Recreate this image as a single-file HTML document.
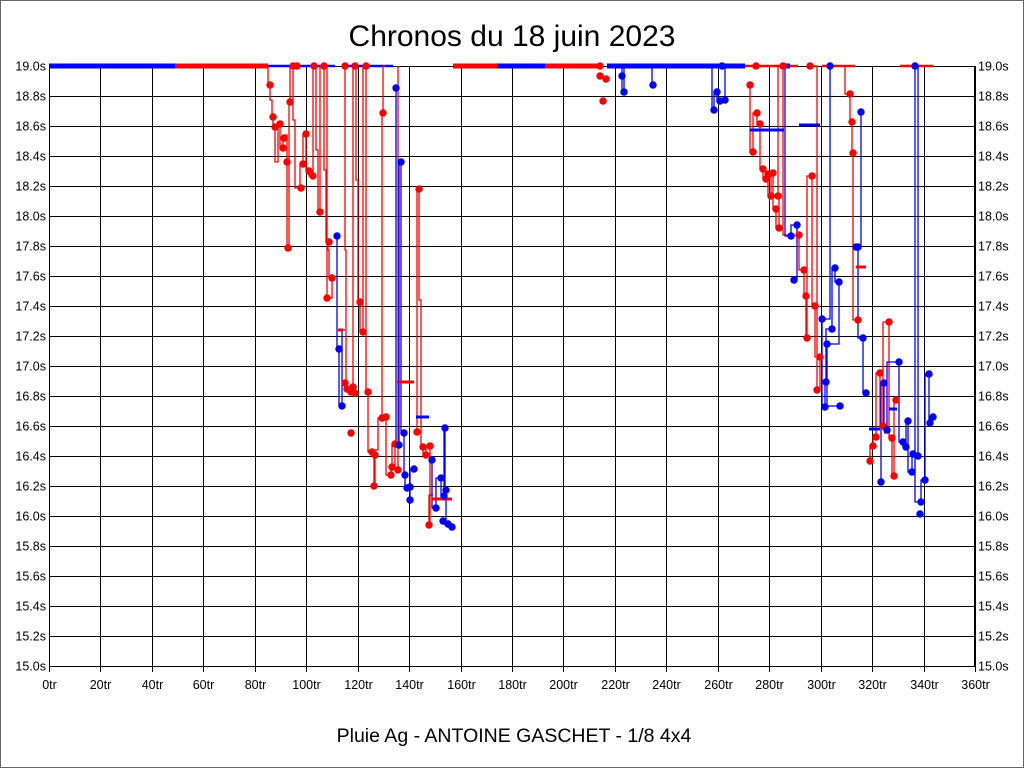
<!DOCTYPE html>
<html><head><meta charset="utf-8"><style>
body{margin:0;background:#fff}
svg{display:block;font-family:"Liberation Sans",sans-serif}
</style></head><body>
<svg width="1024" height="768" viewBox="0 0 1024 768">
<rect x="0.5" y="0.5" width="1023" height="767" fill="#fff" stroke="#666"/>
<text x="512" y="46" font-size="30" text-anchor="middle">Chronos du 18 juin 2023</text>
<text x="514" y="742" font-size="19.5" text-anchor="middle">Pluie Ag - ANTOINE GASCHET - 1/8 4x4</text>
<g id="grid" stroke="#000" stroke-width="1"></g>
<g id="lbl" font-size="12.5"></g>
<rect x="49.5" y="66.5" width="925" height="600" fill="none" stroke="#000"/>
<g fill="none" stroke-width="1.3" stroke-linejoin="miter">
<g stroke-width="5">
<line x1="49" y1="66" x2="175" y2="66" stroke="#00f"/>
<line x1="175" y1="66" x2="268" y2="66" stroke="#f00"/>
<line x1="268" y1="66" x2="290" y2="66" stroke="#00f" stroke-width="2.5"/>
<line x1="290" y1="66" x2="300" y2="66" stroke="#f00"/>
<line x1="300" y1="66" x2="335" y2="66" stroke="#00f" stroke-width="2.5"/>
<line x1="345" y1="66" x2="393" y2="66" stroke="#00f" stroke-width="2.5"/>
<line x1="453" y1="66" x2="497" y2="66" stroke="#f00"/>
<line x1="497" y1="66" x2="545" y2="66" stroke="#00f"/>
<line x1="545" y1="66" x2="600" y2="66" stroke="#f00"/>
<line x1="607" y1="66" x2="745" y2="66" stroke="#00f"/>
<line x1="745" y1="66" x2="798" y2="66" stroke="#f00" stroke-width="2.5"/>
<line x1="780" y1="66" x2="790" y2="66" stroke="#00f"/>
<line x1="822" y1="66" x2="855" y2="66" stroke="#f00" stroke-width="2.5"/>
<line x1="900" y1="66" x2="933" y2="66" stroke="#f00" stroke-width="2.5"/>
</g>
<g stroke="#f00" class="st">
<polyline points="268,66 270,85 272,100 273,117 275,127 278,162 280,124 283,148 285,138 287,135 289,248 290,102 291,66"/>
<polyline points="293,66 295,120 300,188 303,164 306,134 309,171 313,176 314,66"/>
<polyline points="316,66 318,150 320,212 322,66"/>
<polyline points="324,66 326,170 328,242 329,250 332,278 327,298 326,66"/>
<polyline points="345,66 346,250 345,383 347,389 351,392 353,387 355,66"/>
<polyline points="356,66 358,180 360,302 363,332 366,66"/>
<polyline points="366,66 368,392 372,452 375,455 374,486 378,450 382,418 383,113 386,66"/>
<polyline points="386,417 391,475 392,467 395,444 398,470 398,66"/>
<polyline points="417,432 419,189 421,300 423,447 426,455 430,446 429,525 433,495"/>
<polyline points="750,85 753,152 757,113 760,124 763,169 766,179 768,174 771,196 773,173 776,209 779,228 778,196 756,66"/>
<polyline points="783,66 799,235 804,270 806,296 807,338 812,176 815,306 820,357 817,390 810,66"/>
<polyline points="845,66 850,94 852,122 853,153 858,320"/>
<polyline points="870,461 873,446 876,437 880,373 883,426 889,322 892,438 894,476 896,400"/>
</g>
<g stroke="#00f" class="st">
<polyline points="337,236 339,349 342,406 345,330"/>
<polyline points="396,88 399,445 401,162 404,433 405,475 407,488 410,487 410,500 414,469"/>
<polyline points="432,460 436,508 441,478 444,496 445,428 446,490 443,521 448,524 452,527"/>
<polyline points="622,66 622,76 624,92 628,66"/>
<polyline points="652,66 653,85"/>
<polyline points="712,66 714,110 717,92 720,101 725,100 722,66"/>
<polyline points="785,66 791,236 797,225 794,280"/>
<polyline points="830,66 822,319 825,407 826,382 832,329 835,268 839,282 827,344 840,406"/>
<polyline points="861,112 856,247 858,247 863,338 866,393"/>
<polyline points="881,482 884,383 887,430 899,362 903,442 906,447 908,421 912,472 913,454 918,456 915,66 921,502 925,480 929,374 930,423 933,417"/>
</g>
<g stroke-width="3">
<line x1="338" y1="330" x2="343" y2="330" stroke="#f00"/>
<line x1="397" y1="382" x2="414" y2="382" stroke="#f00"/>
<line x1="416" y1="417" x2="429" y2="417" stroke="#00f"/>
<line x1="432" y1="499" x2="452" y2="499" stroke="#f00"/>
<line x1="750" y1="130" x2="784" y2="130" stroke="#00f"/>
<line x1="799" y1="125" x2="820" y2="125" stroke="#00f"/>
<line x1="856" y1="267" x2="866" y2="267" stroke="#f00"/>
<line x1="869" y1="429" x2="880" y2="429" stroke="#00f"/>
<line x1="884" y1="432" x2="890" y2="432" stroke="#f00"/>
<line x1="889" y1="409" x2="897" y2="409" stroke="#00f"/>
</g>
</g>
<g id="dots"></g>
</svg>
<script>
var ns="http://www.w3.org/2000/svg";
function el(p,t,a,txt){var e=document.createElementNS(ns,t);for(var k in a)e.setAttribute(k,a[k]);if(txt!=null)e.textContent=txt;document.getElementById(p).appendChild(e);}
document.querySelectorAll(".st polyline").forEach(function(pl){
var pts=pl.getAttribute("points").trim().split(/\s+/).map(function(s){return s.split(",").map(Number);});
var out=[pts[0]];for(var i=1;i<pts.length;i++){out.push([pts[i-1][0],pts[i][1]]);out.push(pts[i]);}
pl.setAttribute("points",out.map(function(p){return p.join(",");}).join(" "));});
for(var i=0;i<=20;i++){var y=66+i*30;el("grid","line",{x1:49,x2:975,y1:y+.5,y2:y+.5});
var v=(19-i*0.2).toFixed(1)+"s";el("lbl","text",{x:46,y:y+4.5,"text-anchor":"end"},v);el("lbl","text",{x:978,y:y+4.5},v);}
for(var j=0;j<=18;j++){var x=Math.round(49+j*926/18)+.5;el("grid","line",{x1:x,x2:x,y1:66,y2:672});
el("lbl","text",{x:x,y:689,"text-anchor":"middle"},(j*20)+"tr");}
var red=[[270,85],[273,117],[275,127],[280,124],[283,148],[287,162],[284,138],[290,102],[288,248],[301,188],[306,134],[303,164],[309,171],[313,176],[320,212],[314,66],[324,66],[329,242],[332,278],[327,298],[293,66],[297,66],[345,66],[355,66],[366,66],[345,383],[347,389],[351,392],[353,387],[355,393],[351,433],[360,302],[363,332],[368,392],[372,452],[375,455],[374,486],[382,418],[386,417],[391,475],[383,113],[395,444],[392,467],[398,470],[419,189],[417,432],[423,447],[426,455],[430,446],[429,525],
[750,85],[753,152],[757,113],[760,124],[763,169],[766,179],[768,174],[771,196],[773,173],[776,209],[779,228],[778,196],[756,66],[783,66],[810,66],[799,235],[804,270],[806,296],[807,338],[812,176],[815,306],[820,357],[817,390],[850,94],[852,122],[853,153],[858,320],[870,461],[873,446],[876,437],[880,373],[883,426],[889,322],[892,438],[894,476],[896,400],[600,76],[603,101],[606,79],[600,66]];
var blue=[[337,236],[339,349],[342,406],[396,88],[401,162],[399,445],[404,433],[405,475],[407,488],[410,487],[414,469],[410,500],[432,460],[436,508],[441,478],[444,496],[446,490],[443,521],[448,524],[445,428],[452,527],
[622,76],[624,92],[653,85],[714,110],[717,92],[720,101],[725,100],[722,66],[791,236],[797,225],[794,280],[822,319],[825,407],[826,382],[832,329],[835,268],[839,282],[827,344],[840,406],[861,112],[856,247],[858,247],[863,338],[866,393],[830,66],[881,482],[884,383],[887,430],[899,362],[903,442],[906,447],[908,421],[912,472],[913,454],[918,456],[915,66],[925,480],[929,374],[930,423],[933,417],[921,502],[920,514]];
red.forEach(function(p){el("dots","circle",{cx:p[0],cy:p[1],r:3.7,fill:"#f00"});});
blue.forEach(function(p){el("dots","circle",{cx:p[0],cy:p[1],r:3.7,fill:"#00f"});});
</script>
</body></html>
